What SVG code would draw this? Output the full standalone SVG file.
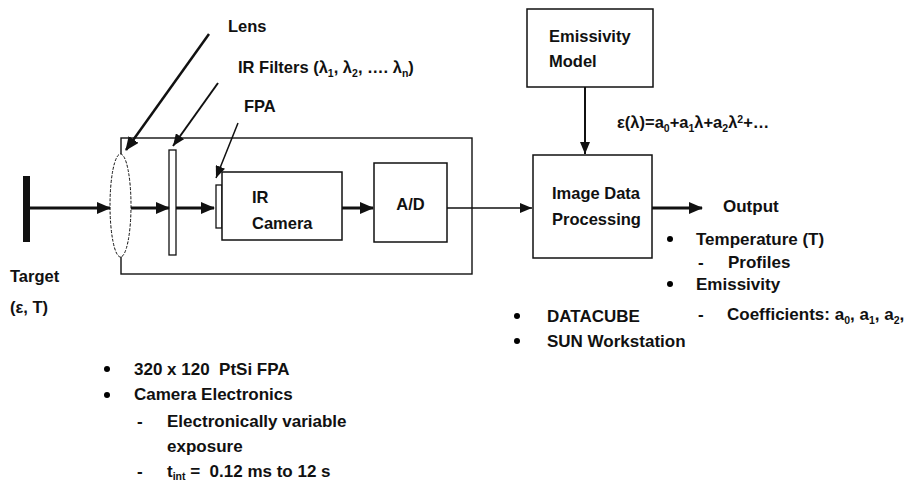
<svg xmlns="http://www.w3.org/2000/svg" width="904" height="481" viewBox="0 0 904 481">
<style>
text{font-family:"Liberation Sans",Arial,sans-serif;font-weight:bold;font-size:16.5px;fill:#111;white-space:pre}
.l{font-size:17px}
.box{fill:#fff;stroke:#111;stroke-width:1.5}
.thick{stroke:#111;stroke-width:3;fill:none}
.thin{stroke:#111;stroke-width:1.5;fill:none}
.sub{font-size:10.5px}
</style>
<defs>
<marker id="ah" markerUnits="userSpaceOnUse" markerWidth="14" markerHeight="12" refX="13" refY="6" orient="auto"><path d="M0,0 L14,6 L0,12 z" fill="#111"/></marker>
<marker id="ahs" markerUnits="userSpaceOnUse" markerWidth="12" markerHeight="10" refX="12" refY="5" orient="auto"><path d="M0,0 L12,5 L0,10 z" fill="#111"/></marker>
</defs>
<rect x="0" y="0" width="904" height="481" fill="#fff"/>

<g id="camera-housing">
<rect x="121" y="138" width="351" height="136" fill="none" stroke="#111" stroke-width="1.4"/>
</g>

<g id="target">
<rect x="23" y="176" width="7" height="66" fill="#111"/>
<text x="10" y="282">Target</text>
<text x="10" y="313">(ε, T)</text>
</g>

<g id="lens">
<ellipse cx="120.5" cy="205.5" rx="10.5" ry="51.5" fill="#fff" stroke="#111" stroke-width="1" stroke-dasharray="3,1.5"/>
<text x="228" y="32">Lens</text>
</g>

<g id="filter">
<rect x="169" y="150" width="7" height="105" fill="#fff" stroke="#111" stroke-width="1.3"/>
<text x="238" y="73">IR Filters (λ<tspan class="sub" dy="4">1</tspan><tspan dy="-4">, λ</tspan><tspan class="sub" dy="4">2</tspan><tspan dy="-4">, …. λ</tspan><tspan class="sub" dy="4">n</tspan><tspan dy="-4">)</tspan></text>
</g>

<g id="fpa">
<rect x="216" y="185" width="6" height="43" fill="#fff" stroke="#111" stroke-width="1.3"/>
<text x="244" y="112">FPA</text>
</g>

<g id="ir-camera">
<rect class="box" x="222" y="172" width="120" height="68"/>
<text x="252" y="203">IR</text>
<text x="252" y="229">Camera</text>
</g>

<g id="ad">
<rect class="box" x="374" y="163" width="73" height="79"/>
<text x="410.5" y="210" text-anchor="middle">A/D</text>
</g>

<g id="emissivity-model">
<rect class="box" x="527" y="9" width="126" height="78"/>
<text x="549" y="42">Emissivity</text>
<text x="549" y="67">Model</text>
</g>

<g id="image-data-processing">
<rect class="box" x="533" y="155" width="119" height="103"/>
<text x="552" y="199">Image Data</text>
<text x="552" y="225">Processing</text>
</g>

<g id="connectors">
<line class="thick" x1="30" y1="208" x2="110" y2="208" marker-end="url(#ah)"/>
<line class="thick" x1="131" y1="208" x2="169" y2="208" marker-end="url(#ah)"/>
<line class="thick" x1="176" y1="208" x2="214" y2="208" marker-end="url(#ah)"/>
<line class="thick" x1="342" y1="208" x2="373" y2="208" marker-end="url(#ah)"/>
<line class="thin" x1="447" y1="208" x2="532" y2="208" marker-end="url(#ahs)"/>
<line class="thick" x1="652" y1="208" x2="702" y2="208" marker-end="url(#ah)"/>
<line x1="585" y1="87" x2="585" y2="154" stroke="#111" stroke-width="2" marker-end="url(#ahs)"/>
<line x1="209" y1="34" x2="126" y2="150" stroke="#111" stroke-width="2.5" marker-end="url(#ah)"/>
<line x1="218" y1="83" x2="173" y2="146" stroke="#111" stroke-width="2" marker-end="url(#ahs)"/>
<line x1="238" y1="123" x2="216" y2="178" stroke="#111" stroke-width="1.5" marker-end="url(#ahs)"/>
</g>

<g id="formula">
<text x="617" y="128">ε(λ)=a<tspan class="sub" dy="4">0</tspan><tspan dy="-4">+a</tspan><tspan class="sub" dy="4">1</tspan><tspan dy="-4">λ+a</tspan><tspan class="sub" dy="4">2</tspan><tspan dy="-4">λ</tspan><tspan class="sub" dy="-5">2</tspan><tspan dy="5">+…</tspan></text>
</g>

<g id="output">
<text class="l" x="723" y="212">Output</text>
<circle cx="670" cy="239" r="3"/>
<text class="l" x="696" y="245">Temperature (T)</text>
<text class="l" x="698" y="268">-</text>
<text class="l" x="728" y="268">Profiles</text>
<circle cx="670" cy="284" r="3"/>
<text class="l" x="696" y="290">Emissivity</text>
<text class="l" x="698" y="320">-</text>
<text class="l" x="727" y="320">Coefficients: a<tspan class="sub" dy="4">0</tspan><tspan dy="-4">, a</tspan><tspan class="sub" dy="4">1</tspan><tspan dy="-4">, a</tspan><tspan class="sub" dy="4">2</tspan><tspan dy="-4">,</tspan></text>
</g>

<g id="processing-hw">
<circle cx="517" cy="316" r="3"/>
<text class="l" x="547" y="322">DATACUBE</text>
<circle cx="517" cy="341" r="3"/>
<text class="l" x="547" y="347">SUN Workstation</text>
</g>

<g id="camera-specs">
<circle cx="107" cy="369" r="3"/>
<text class="l" x="134" y="375">320 x 120  PtSi FPA</text>
<circle cx="107" cy="395" r="3"/>
<text class="l" x="134" y="400">Camera Electronics</text>
<text class="l" x="137" y="427">-</text>
<text class="l" x="167" y="427">Electronically variable</text>
<text class="l" x="167" y="452">exposure</text>
<text class="l" x="137" y="477">-</text>
<text class="l" x="167" y="477">t<tspan class="sub" dy="3">int</tspan><tspan dy="-3"> =  0.12 ms to 12 s</tspan></text>
</g>
</svg>
